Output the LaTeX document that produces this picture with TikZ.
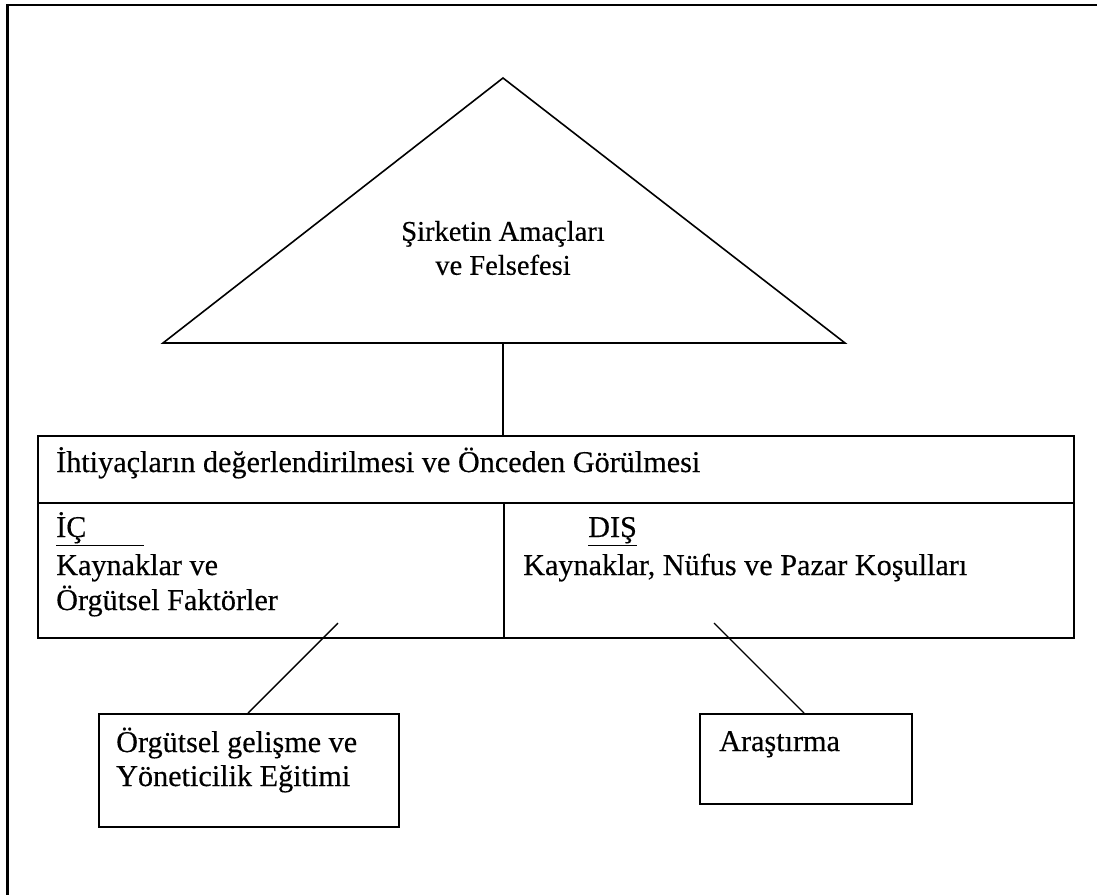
\documentclass[tikz,border=0pt]{standalone}
\usepackage{fontspec}
\setmainfont{Liberation Serif}[FakeBold=0.35]
\newcommand\dfont{\fontsize{30.2}{35}\selectfont}
\begin{document}
\begin{tikzpicture}[x=1pt,y=-1pt,
  frameline/.style={line width=2.8pt},
  boxline/.style={draw, line width=1.8pt, inner sep=0pt, anchor=north west},
  conn/.style={line width=1.4pt},
  txt/.style={font=\dfont, inner sep=0pt, anchor=base west}]
\useasboundingbox (0,0) rectangle (1097,894);
% outer frame (top and left only)
\coordinate (ftl) at (7.5,5);
\coordinate (ftr) at (1100,5);
\coordinate (fbl) at (7.5,900);
\draw[frameline] (ftr) -- (ftl) -- (fbl);
% triangle
\coordinate (apex) at (503,78);
\coordinate (bl) at (163,343);
\coordinate (br) at (845,343);
\coordinate (bm) at (503,343);
\draw[line width=1.6pt, line join=miter] (apex) -- (br) -- (bl) -- cycle;
\node[font=\fontsize{28.5}{34}\selectfont, align=center, inner sep=0pt] (goal) at (503,248) {Şirketin Amaçları\\ve Felsefesi};
% main boxes
\node[boxline, minimum width=1036pt, minimum height=67pt] (need) at (37,435) {};
\node[boxline, minimum width=466pt, minimum height=135pt] (ic) at (37,502) {};
\node[boxline, minimum width=570pt, minimum height=135pt] (dis) at (503,502) {};
\draw[conn] (bm) -- (need.north -| bm);
\node[txt] (needt) at (56,472) {İhtiyaçların değerlendirilmesi ve Önceden Görülmesi};
\node[txt] (ict) at (56,537) {\underline{\makebox[88pt][l]{İÇ}}};
\node[txt] (ic1) at (56,575) {Kaynaklar ve};
\node[txt] (ic2) at (56,610) {Örgütsel Faktörler};
\node[txt] (dist) at (588,537) {\underline{DIŞ}};
\node[txt] (dis1) at (523,575) {Kaynaklar, Nüfus ve Pazar Koşulları};
% lower boxes
\node[boxline, minimum width=300pt, minimum height=113pt] (org) at (98,713) {};
\node[txt] (org1) at (116,752) {Örgütsel gelişme ve};
\node[txt] (org2) at (116,786) {Yöneticilik Eğitimi};
\node[boxline, minimum width=212pt, minimum height=90pt] (ar) at (699,713) {};
\node[txt] (art) at (719,751) {Araştırma};
% connectors
\coordinate (c1) at (338,623);
\coordinate (c2) at (714,623);
\draw[conn] (c1) -- (org.north west -| 248,0);
\draw[conn] (c2) -- (ar.north west -| 804,0);
\end{tikzpicture}
\end{document}
